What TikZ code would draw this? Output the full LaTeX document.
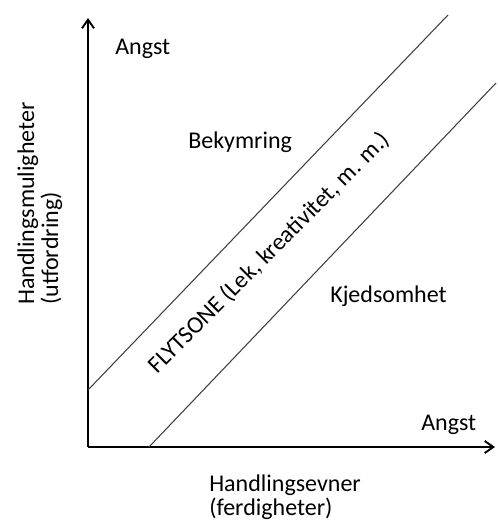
\documentclass[tikz,border=0pt]{standalone}
\usepackage{fontspec}
\setmainfont{Carlito}
\usetikzlibrary{arrows.meta}
\begin{document}
\begin{tikzpicture}[x=0.75pt,y=-0.75pt]
      \tikzset{axis/.style={line width=1.5pt, -{Straight Barb[length=6.5pt, width=9pt, line width=1.4pt]}},
               zone/.style={line width=0.8pt, draw=black!75},
               lbl/.style={inner sep=0pt, font=\fontsize{18}{18}\selectfont}}
      \useasboundingbox (0,0) rectangle (497,524);
%% Akser
      	\coordinate (O) at (88,447);
      	\coordinate (ytop) at (88,18);
      	\coordinate (xend) at (495,447);
		\draw [axis] (O) -- (ytop);
		\draw [axis] (O) -- (xend);
%% Flytsone
      	\coordinate (u1) at (88,390);
      	\coordinate (u2) at (448,15);
      	\coordinate (l1) at (149,447);
      	\coordinate (l2) at (496,83);
		\path [zone] (u1) edge (u2);
		\path [zone] (l1) edge (l2);
%Tekster
     	\node[lbl, anchor=base west] (angsty) at (115,55) {Angst};
     	\node[lbl, anchor=base west] (angstx) at (421,430) {Angst};
     	\node[lbl, anchor=base west] (bekym) at (188,148) {Bekymring};
     	\node[lbl, anchor=base west] (kjed) at (330,302) {Kjedsomhet};
     	\node[lbl, anchor=base, rotate=45] (flyt) at (274,258) {FLYTSONE (Lek, kreativitet, m. m.)};
     	\node[lbl, anchor=base west, align=left] (xlab) at (209,515) {Handlingsevner\\(ferdigheter)};
     	\node[lbl, anchor=base west, align=left, rotate=90] (ylab) at (58,305) {Handlingsmuligheter\\(utfordring)};
\end{tikzpicture}
\end{document}
